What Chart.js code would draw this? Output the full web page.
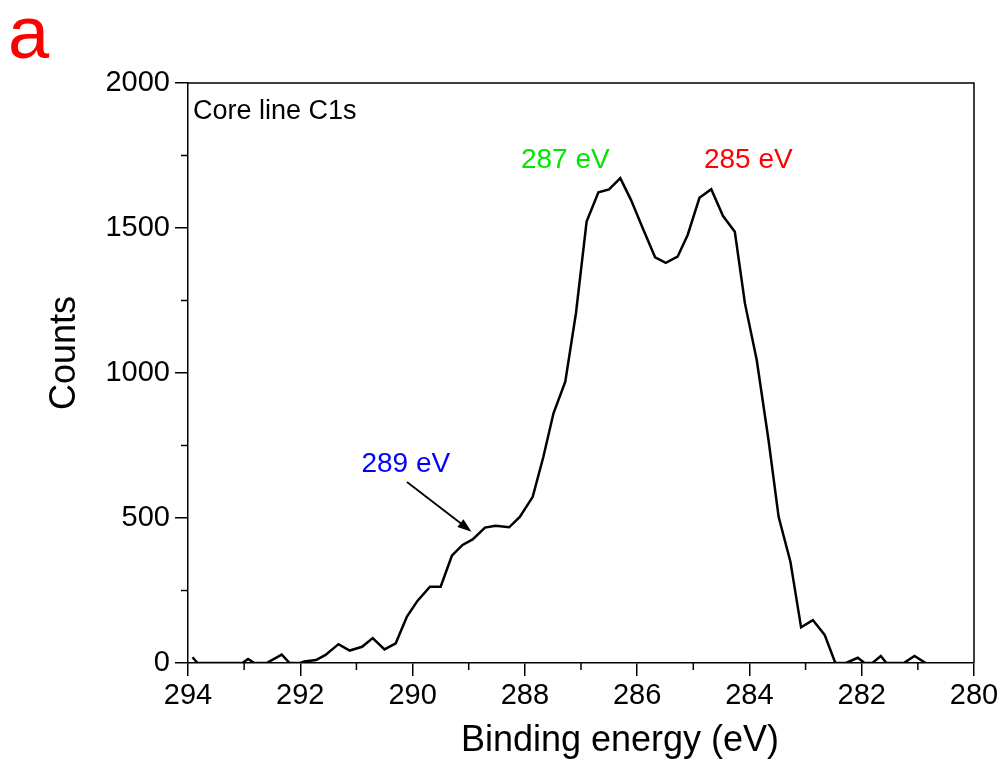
<!DOCTYPE html>
<html>
<head>
<meta charset="utf-8">
<script src="https://cdn.jsdelivr.net/npm/chart.js@4.4.1/dist/chart.umd.min.js"></script>
<style>
  html, body { margin: 0; padding: 0; background: #fff; }
  #wrap { width: 1006px; height: 765px; position: relative; }
</style>
</head>
<body>
<div id="wrap"><canvas id="c" width="1006" height="765"></canvas></div>
<script>
// Binding energy (eV) and counts
const bindingEnergy = [
  293.92, 293.83, 293.03, 292.93, 292.82, 292.60, 292.33, 292.19, 292.00, 291.93,
  291.72, 291.55, 291.32, 291.12, 290.90, 290.71, 290.50, 290.30, 290.10, 289.91,
  289.69, 289.50, 289.30, 289.11, 288.93, 288.71, 288.52, 288.28, 288.09, 287.86,
  287.67, 287.49, 287.28, 287.09, 286.90, 286.69, 286.50, 286.30, 286.11, 285.90,
  285.68, 285.49, 285.28, 285.10, 284.89, 284.68, 284.47, 284.26, 284.08, 283.87,
  283.66, 283.48, 283.27, 283.08, 282.87, 282.66, 282.47, 282.28, 282.07, 281.95,
  281.81, 281.66, 281.56, 281.25, 281.06, 280.86
];
const counts = [
  20, 0, 0, 14, 0, 0, 29, 0, 0, 5,
  10, 28, 65, 43, 56, 86, 47, 68, 160, 215,
  263, 263, 370, 407, 426, 467, 473, 468, 504, 573,
  711, 861, 970, 1206, 1522, 1623, 1633, 1672, 1597, 1499,
  1399, 1380, 1401, 1476, 1604, 1634, 1541, 1487, 1240, 1045,
  769, 504, 349, 123, 148, 97, 0, 0, 18, 0,
  0, 24, 0, 0, 24, 0
];
const xTickValues = [294, 292, 290, 288, 286, 284, 282, 280];
const xMinorTicks = [293, 291, 289, 287, 285, 283, 281];
const yTickValues = [0, 500, 1000, 1500, 2000];
const yMinorTicks = [250, 750, 1250, 1750];

const xTitle = 'Binding energy (eV)';
const yTitle = 'Counts';
const panelLetter = 'a';
const coreLabel = 'Core line C1s';
const peakLabels = [
  { text: '287 eV', x: 287.28, y: 1734, color: '#00e600' },
  { text: '285 eV', x: 284.02, y: 1734, color: '#ff0000' },
  { text: '289 eV', x: 290.12, y: 686, color: '#0000ff' }
];
const arrowFrom = { x: 290.10, y: 624 };
const arrowTo = { x: 288.95, y: 453 };

const FONT = "'Liberation Sans', Arial, sans-serif";

const data = bindingEnergy.map((e, i) => ({ x: e, y: counts[i] }));

const decorPlugin = {
  id: 'decor',
  afterDraw(chart) {
    const { ctx, chartArea: a, scales: { x, y } } = chart;
    ctx.save();
    // frame (top & right)
    ctx.strokeStyle = '#000';
    ctx.lineWidth = 1.5;
    ctx.beginPath();
    ctx.moveTo(a.left, a.top);
    ctx.lineTo(a.right, a.top);
    ctx.lineTo(a.right, a.bottom);
    ctx.stroke();
    // minor ticks
    ctx.beginPath();
    xMinorTicks.forEach(v => {
      const px = x.getPixelForValue(v);
      ctx.moveTo(px, a.bottom);
      ctx.lineTo(px, a.bottom + 7);
    });
    yMinorTicks.forEach(v => {
      const py = y.getPixelForValue(v);
      ctx.moveTo(a.left, py);
      ctx.lineTo(a.left - 7, py);
    });
    ctx.stroke();

    // axis titles
    ctx.fillStyle = '#000';
    ctx.font = '36px ' + FONT;
    ctx.textAlign = 'center';
    ctx.textBaseline = 'middle';
    ctx.fillText(xTitle, 620, 741);
    ctx.save();
    ctx.translate(65, 353);
    ctx.rotate(-Math.PI / 2);
    ctx.fillText(yTitle, 0, 0);
    ctx.restore();

    // panel letter
    ctx.fillStyle = '#ff0000';
    ctx.font = '74px ' + FONT;
    ctx.textAlign = 'left';
    ctx.textBaseline = 'alphabetic';
    ctx.fillText(panelLetter, 8, 58);

    // core line label
    ctx.fillStyle = '#000';
    ctx.font = '27px ' + FONT;
    ctx.textBaseline = 'middle';
    ctx.fillText(coreLabel, a.left + 5, a.top + 29);

    // peak labels
    ctx.font = '28px ' + FONT;
    ctx.textAlign = 'center';
    peakLabels.forEach(p => {
      ctx.fillStyle = p.color;
      ctx.fillText(p.text, x.getPixelForValue(p.x), y.getPixelForValue(p.y));
    });

    // arrow
    const x1 = x.getPixelForValue(arrowFrom.x), y1 = y.getPixelForValue(arrowFrom.y);
    const x2 = x.getPixelForValue(arrowTo.x), y2 = y.getPixelForValue(arrowTo.y);
    const ang = Math.atan2(y2 - y1, x2 - x1);
    const hl = 14, hw = 5;
    ctx.strokeStyle = '#000';
    ctx.lineWidth = 1.8;
    ctx.beginPath();
    ctx.moveTo(x1, y1);
    ctx.lineTo(x2 - Math.cos(ang) * hl * 0.8, y2 - Math.sin(ang) * hl * 0.8);
    ctx.stroke();
    ctx.fillStyle = '#000';
    ctx.beginPath();
    ctx.moveTo(x2, y2);
    ctx.lineTo(x2 - Math.cos(ang) * hl - Math.sin(ang) * hw, y2 - Math.sin(ang) * hl + Math.cos(ang) * hw);
    ctx.lineTo(x2 - Math.cos(ang) * hl + Math.sin(ang) * hw, y2 - Math.sin(ang) * hl - Math.cos(ang) * hw);
    ctx.closePath();
    ctx.fill();
    ctx.restore();
  }
};

new Chart(document.getElementById('c'), {
  type: 'line',
  data: {
    datasets: [{
      data: data,
      borderColor: '#000',
      borderWidth: 2.5,
      pointRadius: 0,
      tension: 0,
      fill: false
    }]
  },
  options: {
    responsive: false,
    animation: false,
    layout: { padding: { top: 83, right: 32, bottom: 0, left: 0 } },
    plugins: { legend: { display: false }, tooltip: { enabled: false } },
    scales: {
      x: {
        type: 'linear',
        reverse: true,
        min: 280,
        max: 294,
        afterBuildTicks: s => { s.ticks = xTickValues.map(v => ({ value: v })); },
        afterFit: s => { s.height = 102; },
        ticks: {
          color: '#000',
          font: { family: FONT, size: 29 },
          padding: 3,
          maxRotation: 0,
          autoSkip: false,
          callback: v => String(v)
        },
        grid: { drawOnChartArea: false, drawTicks: true, tickLength: 13, color: '#000', lineWidth: 1.5 },
        border: { display: true, color: '#000', width: 1.5 },
        title: { display: false }
      },
      y: {
        type: 'linear',
        min: 0,
        max: 2000,
        afterBuildTicks: s => { s.ticks = yTickValues.map(v => ({ value: v })); },
        afterFit: s => { s.width = 188; },
        ticks: {
          color: '#000',
          font: { family: FONT, size: 29 },
          padding: 5,
          callback: v => String(v)
        },
        grid: { drawOnChartArea: false, drawTicks: true, tickLength: 13, color: '#000', lineWidth: 1.5 },
        border: { display: true, color: '#000', width: 1.5 },
        title: { display: false }
      }
    }
  },
  plugins: [decorPlugin]
});
</script>
</body>
</html>
